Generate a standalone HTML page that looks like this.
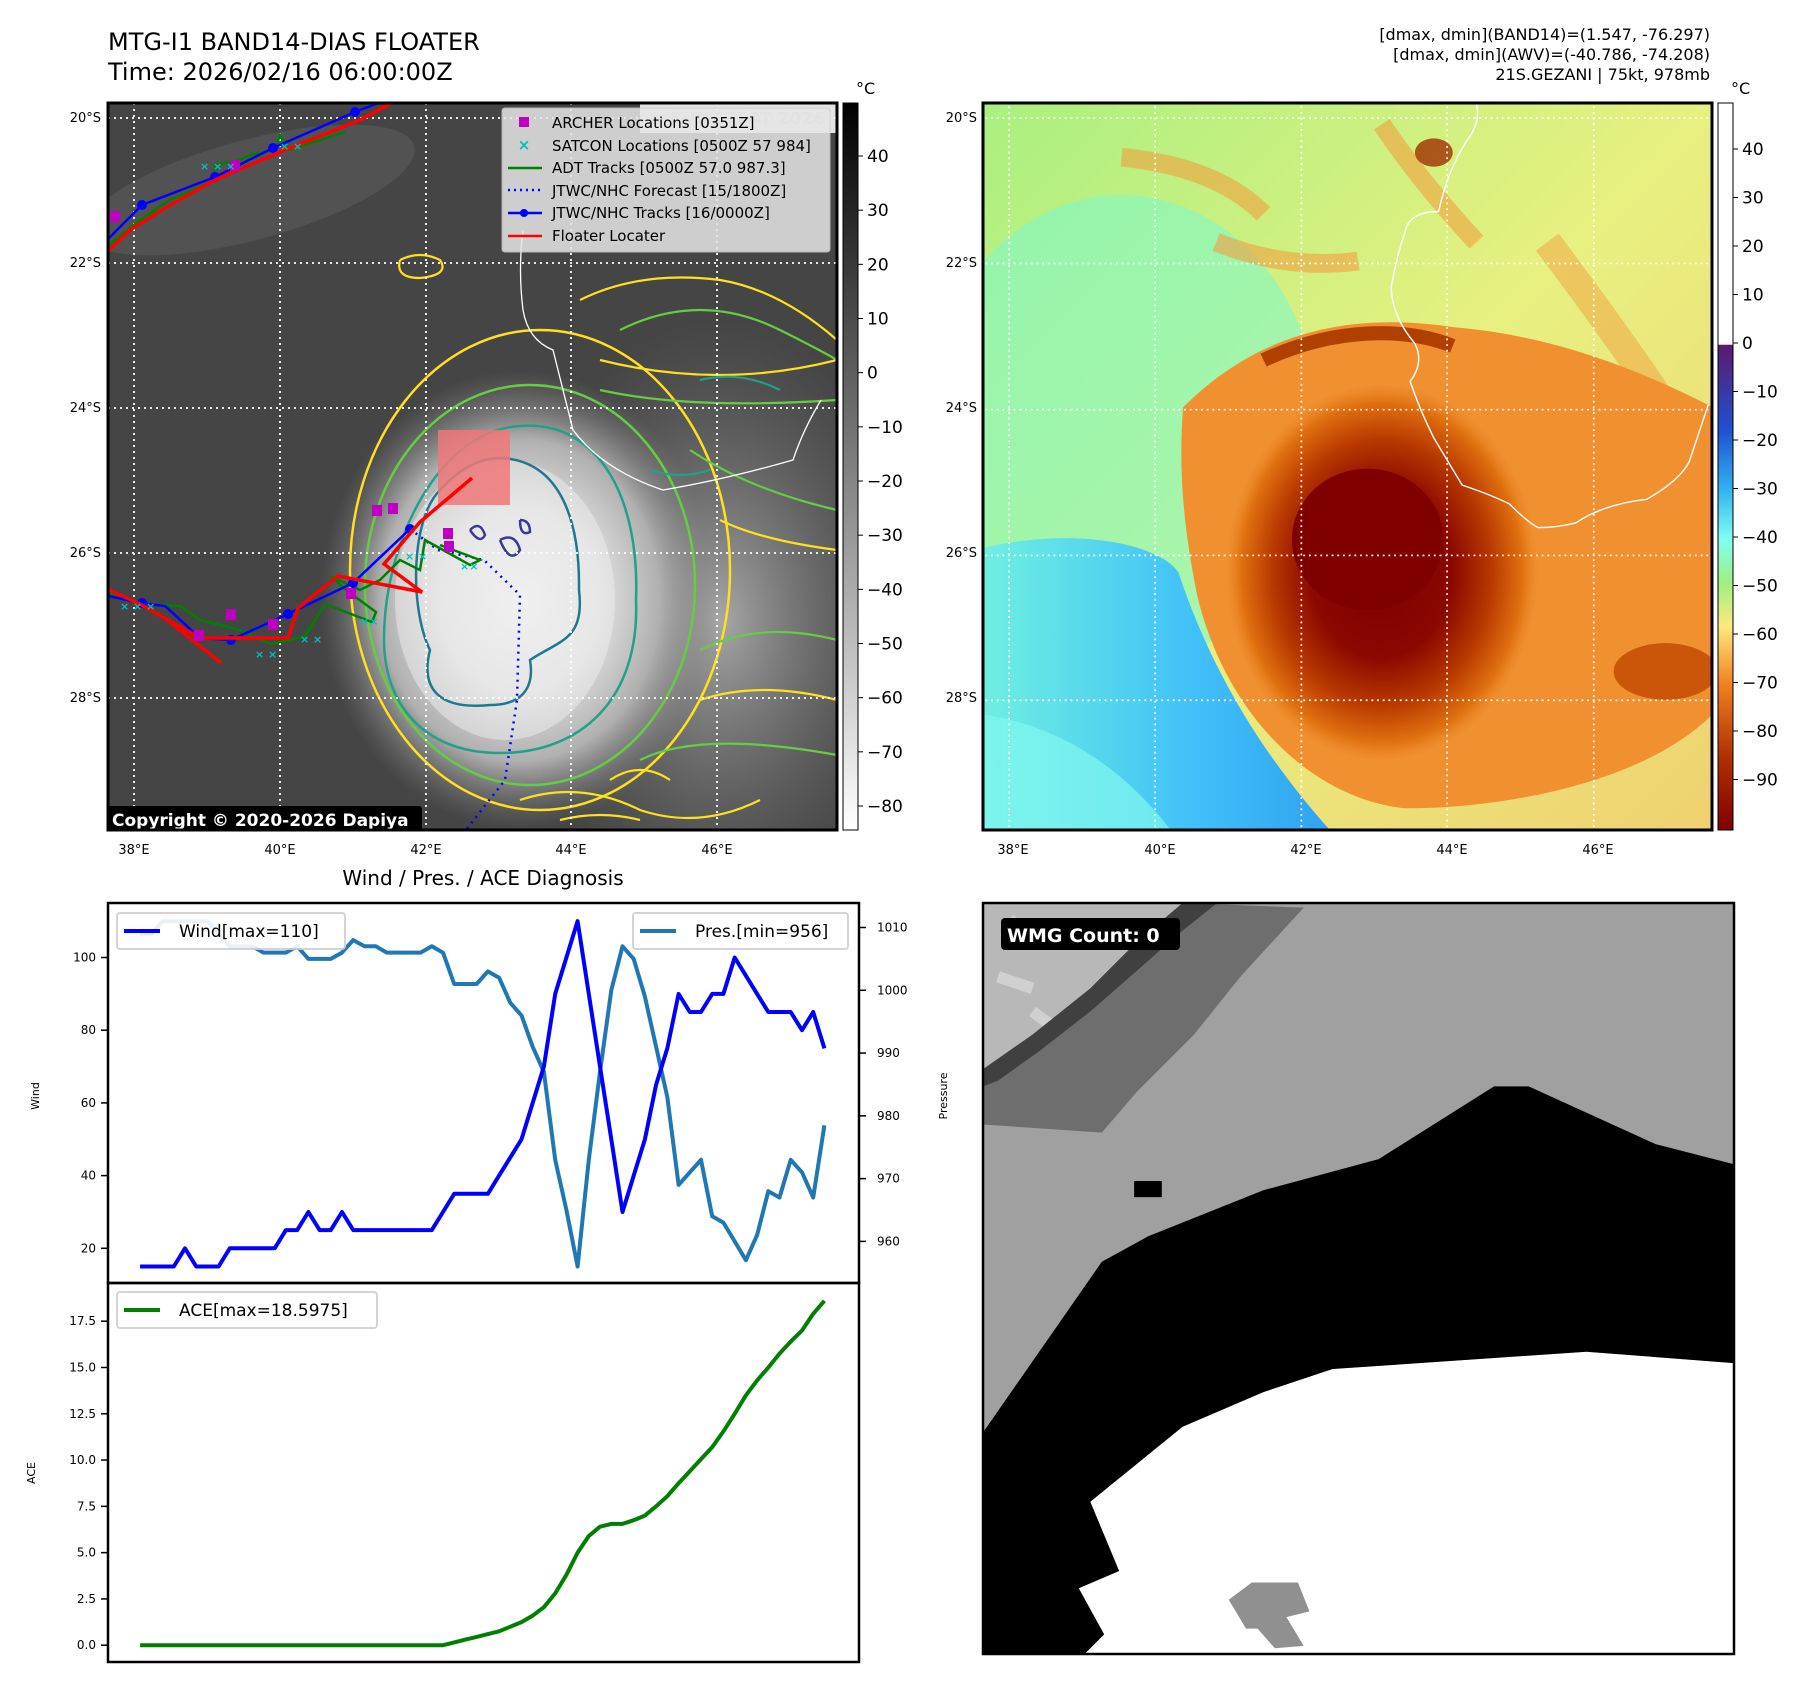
<!DOCTYPE html>
<html><head><meta charset="utf-8"><style>
html,body{margin:0;padding:0;background:#fff;}
svg{display:block;font-family:"DejaVu Sans","Liberation Sans",sans-serif;}
</style></head><body>
<svg id="fig" width="1801" height="1690" viewBox="0 0 1801 1690" xmlns="http://www.w3.org/2000/svg">
<defs>
  <radialGradient id="blob1" cx="0.5" cy="0.5" r="0.5">
    <stop offset="0" stop-color="#f2f2f2"/><stop offset="0.4" stop-color="#e0e0e0"/><stop offset="0.7" stop-color="#b0b0b0"/><stop offset="1" stop-color="#7a7a7a" stop-opacity="0"/>
  </radialGradient>
  <radialGradient id="east1" cx="0.5" cy="0.5" r="0.5">
    <stop offset="0" stop-color="#a8a8a8"/><stop offset="1" stop-color="#707070" stop-opacity="0"/>
  </radialGradient>
  <linearGradient id="cb1" x1="0" y1="0" x2="0" y2="1"><stop offset="0" stop-color="#000"/><stop offset="1" stop-color="#fff"/></linearGradient>
  <linearGradient id="cb2" x1="0" y1="0" x2="0" y2="1">
    <stop offset="0" stop-color="#fff"/><stop offset="0.332" stop-color="#fff"/><stop offset="0.333" stop-color="#5a1a6e"/>
    <stop offset="0.45" stop-color="#2050d0"/><stop offset="0.53" stop-color="#30b0f0"/><stop offset="0.6" stop-color="#80fff0"/>
    <stop offset="0.66" stop-color="#a0f080"/><stop offset="0.72" stop-color="#ffe880"/><stop offset="0.8" stop-color="#f08020"/>
    <stop offset="0.9" stop-color="#b03000"/><stop offset="1" stop-color="#800000"/>
  </linearGradient>
  <radialGradient id="core2" cx="0.5" cy="0.5" r="0.5">
    <stop offset="0" stop-color="#800000"/><stop offset="0.45" stop-color="#8a0800"/><stop offset="0.7" stop-color="#b83800"/><stop offset="0.9" stop-color="#e07010"/><stop offset="1" stop-color="#e88020" stop-opacity="0"/>
  </radialGradient>
  <linearGradient id="bg2" x1="0" y1="0" x2="1" y2="1">
    <stop offset="0" stop-color="#a8f080"/><stop offset="0.5" stop-color="#e8f080"/><stop offset="1" stop-color="#f0d070"/>
  </linearGradient>
  <linearGradient id="sea2" x1="0" y1="0" x2="1" y2="0">
    <stop offset="0" stop-color="#70f0e0"/><stop offset="0.6" stop-color="#40c0f8"/><stop offset="1" stop-color="#30a0f0"/>
  </linearGradient>
  <clipPath id="clip1"><rect x="108" y="103" width="729" height="727"/></clipPath>
  <clipPath id="clip2"><rect x="983" y="103" width="729" height="727"/></clipPath>
  <clipPath id="clip3"><rect x="983" y="903" width="751" height="751"/></clipPath>
</defs>

<text x="108" y="50" font-size="24">MTG-I1 BAND14-DIAS FLOATER</text>
<text x="108" y="80" font-size="24">Time: 2026/02/16 06:00:00Z</text>
<g font-size="16" text-anchor="end">
  <text x="1710" y="40">[dmax, dmin](BAND14)=(1.547, -76.297)</text>
  <text x="1710" y="60">[dmax, dmin](AWV)=(-40.786, -74.208)</text>
  <text x="1710" y="80">21S.GEZANI | 75kt, 978mb</text>
</g>

<!-- MAP 1 -->
<g clip-path="url(#clip1)">
  <rect x="108" y="103" width="729" height="727" fill="#454545"/>
  <ellipse cx="250" cy="190" rx="170" ry="50" fill="#525252" transform="rotate(-15 250 190)"/>
  <ellipse cx="720" cy="620" rx="200" ry="300" fill="url(#east1)"/>
  <ellipse cx="520" cy="600" rx="200" ry="230" fill="url(#blob1)"/>
  <ellipse cx="505" cy="600" rx="110" ry="140" fill="#eeeeee" opacity="0.5"/>
  <ellipse cx="540" cy="570" rx="190" ry="240" fill="none" stroke="#ffe020" stroke-width="2.5"/>
  <ellipse cx="530" cy="585" rx="165" ry="200" fill="none" stroke="#66cc44" stroke-width="2.5"/>
  <path d="M520,426 C600,420 640,500 636,600 C640,700 580,753 500,753 C420,753 384,700 384,640 C384,540 440,430 520,426Z" fill="none" stroke="#22a088" stroke-width="2.5"/>
  <path d="M500,458 C560,460 580,520 579,590 C585,640 560,640 530,660 C535,690 520,705 490,705 C440,710 420,690 430,650 C410,610 410,520 440,490 C460,468 480,458 500,458Z" fill="none" stroke="#207890" stroke-width="2.5"/>
  <path d="M470,530 q10,-10 15,5 q-5,10 -15,-5 M500,540 q15,-8 20,10 q-10,15 -20,-10 M520,520 q10,0 10,12 q-10,5 -10,-12" fill="none" stroke="#3a3a90" stroke-width="2.5"/>
  <path d="M620,330 q80,-40 160,0 q40,20 57,30 M600,390 q90,20 237,10 M690,450 q60,40 147,60 M700,650 q60,-30 137,-10 M640,760 q60,-30 197,-5" fill="none" stroke="#66cc44" stroke-width="2.2"/>
  <path d="M580,300 q60,-30 140,-20 q60,10 117,60 M600,360 q120,30 237,0 M720,520 q40,20 117,30 M700,700 q60,-20 137,0 M520,800 q60,-20 120,10 q60,20 120,-10 M560,820 q40,-10 80,0 M400,260 q20,-10 40,0 q10,15 -20,18 q-25,0 -20,-18 M610,780 q30,-20 60,0" fill="none" stroke="#ffe020" stroke-width="2.2"/>
  <path d="M700,380 q40,-10 80,10 M650,470 q30,10 60,0" fill="none" stroke="#22a088" stroke-width="2.2"/>
  <path d="M523,230 q-5,40 0,80 q5,30 30,40 q10,40 20,80 q30,40 90,60 q60,-10 130,-30 q10,-30 28,-60" fill="none" stroke="#fff" stroke-width="1.3"/>
  <g stroke="#fff" stroke-width="1.8" stroke-dasharray="2,4">
    <line x1="108" x2="837" y1="118" y2="118"/><line x1="108" x2="837" y1="263" y2="263"/><line x1="108" x2="837" y1="408" y2="408"/><line x1="108" x2="837" y1="553" y2="553"/><line x1="108" x2="837" y1="698" y2="698"/>
    <line y1="103" y2="830" x1="134" x2="134"/><line y1="103" y2="830" x1="280" x2="280"/><line y1="103" y2="830" x1="426" x2="426"/><line y1="103" y2="830" x1="571" x2="571"/><line y1="103" y2="830" x1="717" x2="717"/>
  </g>
  <rect x="438" y="430" width="72" height="75" fill="#f07878" opacity="0.85"/>
  <polyline points="410,529 438,550 484,560 520,595 517,700 505,780 466,830" fill="none" stroke="#0000ff" stroke-width="2.5" stroke-dasharray="2,5"/>
  <g fill="none" stroke="#008000" stroke-width="2.5">
    <polyline points="109,594 150,604 180,606 200,620 240,630 271,644 290,640 305,636 325,604 372,622 376,612 350,593 330,576 360,590 380,580 400,560 420,570 425,540 470,565 480,560 440,545"/>
    <polyline points="109,245 140,220 170,200 215,180 215,165 240,160 250,155 275,150 280,135 290,150 320,140 345,132"/>
  </g>
  <g fill="none" stroke="#0000ff" stroke-width="2.5">
    <polyline points="109,596 140,603 165,606 200,638 231,640 288,614 353,583 410,529"/>
    <polyline points="109,238 142,205 215,177 273,148 355,112 381,102"/>
  </g>
  <g fill="#0000ff"><circle cx="142" cy="603" r="5"/><circle cx="231" cy="640" r="5"/><circle cx="288" cy="614" r="5"/><circle cx="353" cy="583" r="5"/><circle cx="410" cy="529" r="5"/><circle cx="142" cy="205" r="5"/><circle cx="215" cy="177" r="5"/><circle cx="273" cy="148" r="5"/><circle cx="355" cy="112" r="5"/></g>
  <g fill="none" stroke="#ff0000" stroke-width="3.5">
    <polyline points="109,590 140,604 200,638 288,638 298,608 338,576 422,592 384,564 420,522 472,478"/>
    <polyline points="165,618 221,663"/>
    <polyline points="109,250 130,230 170,205 215,180 280,152 360,120 390,104"/>
  </g>
  <g fill="#c000c0">
    <rect x="372" y="505" width="10" height="11"/><rect x="388" y="503" width="10" height="11"/><rect x="444" y="541" width="10" height="11"/><rect x="443" y="528" width="10" height="11"/>
    <rect x="346" y="588" width="10" height="11"/><rect x="268" y="619" width="10" height="11"/><rect x="226" y="609" width="10" height="11"/><rect x="110" y="211" width="10" height="11"/><rect x="230" y="160" width="10" height="11"/><rect x="194" y="630" width="10" height="11"/>
  </g>
  <g fill="#00c0c0" font-size="11" font-weight="bold">
    <text x="120" y="610">× × ×</text><text x="255" y="658">× ×</text><text x="300" y="643">× ×</text><text x="360" y="625">××</text><text x="405" y="560">× ×</text><text x="460" y="570">××</text><text x="200" y="170">× × ×</text><text x="280" y="150">× ×</text>
  </g>
  <rect x="640" y="103" width="197" height="30" fill="#fff" opacity="0.85"/>
  <text x="825" y="124" font-size="17" font-weight="bold" fill="#ccc" text-anchor="end">© EUMETSAT 2026</text>
  <rect x="108" y="806" width="314" height="26" rx="3" fill="#000"/>
  <text x="112" y="826" font-size="17" font-weight="bold" fill="#fff">Copyright © 2020-2026 Dapiya</text>
</g>
<rect x="108" y="103" width="729" height="727" fill="none" stroke="#000" stroke-width="3"/>
<g>
  <rect x="502" y="108" width="328" height="144" rx="3" fill="#e6e6e6" opacity="0.85" stroke="#ccc"/>
  <rect x="519" y="117" width="10" height="10" fill="#c000c0"/>
  <text x="524" y="150" font-size="15" font-weight="bold" fill="#00c0c0" text-anchor="middle">×</text>
  <line x1="508" x2="542" y1="168" y2="168" stroke="#008000" stroke-width="2.5"/>
  <line x1="508" x2="542" y1="190" y2="190" stroke="#0000ff" stroke-width="2.5" stroke-dasharray="2,4"/>
  <line x1="508" x2="542" y1="213" y2="213" stroke="#0000ff" stroke-width="2.5"/><circle cx="524" cy="213" r="4" fill="#0000ff"/>
  <line x1="508" x2="542" y1="236" y2="236" stroke="#ff0000" stroke-width="2.5"/>
  <g font-size="15">
    <text x="552" y="128">ARCHER Locations [0351Z]</text>
    <text x="552" y="151">SATCON Locations [0500Z 57 984]</text>
    <text x="552" y="173">ADT Tracks [0500Z 57.0 987.3]</text>
    <text x="552" y="196">JTWC/NHC Forecast [15/1800Z]</text>
    <text x="552" y="218">JTWC/NHC Tracks [16/0000Z]</text>
    <text x="552" y="241">Floater Locater</text>
  </g>
</g>
<g font-size="13">
  <g text-anchor="end"><text x="101" y="122">20°S</text><text x="101" y="267">22°S</text><text x="101" y="412">24°S</text><text x="101" y="557">26°S</text><text x="101" y="702">28°S</text></g>
  <g text-anchor="middle"><text x="134" y="854">38°E</text><text x="280" y="854">40°E</text><text x="426" y="854">42°E</text><text x="571" y="854">44°E</text><text x="717" y="854">46°E</text></g>
</g>
<g>
  <rect x="843" y="103" width="15" height="727" fill="url(#cb1)" stroke="#000" stroke-width="1"/>
  <text x="856" y="94" font-size="16">°C</text>
  <g font-size="17" id="cb1ticks"></g>
</g>

<!-- MAP 2 -->
<g clip-path="url(#clip2)">
  <svg x="983" y="103" width="729" height="727" viewBox="7 5 1541 1541" preserveAspectRatio="none">
    <rect x="0" y="0" width="1568" height="1568" fill="url(#bg2)"/>
    <ellipse cx="300" cy="700" rx="420" ry="500" fill="#80f8c8" opacity="0.6"/>
    <path d="M0,950 C200,900 380,940 420,1000 C470,1150 560,1350 760,1568 L0,1568Z" fill="url(#sea2)"/>
    <path d="M0,1300 C150,1320 300,1400 420,1568 L0,1568Z" fill="#80f8f0" opacity="0.7"/>
    <path d="M300,120 q200,20 300,120 M850,50 q80,120 200,250 M500,300 q150,60 300,40" fill="none" stroke="#f0a040" stroke-width="40" opacity="0.6"/>
    <path d="M1200,300 q150,200 250,350" fill="none" stroke="#f0a040" stroke-width="60" opacity="0.5"/>
    <path d="M430,650 C600,480 800,450 1000,480 C1250,500 1450,600 1550,650 L1550,1300 C1400,1450 1100,1500 900,1500 C700,1480 520,1300 460,1050 C430,900 420,780 430,650Z" fill="#f09030"/>
    <path d="M600,550 C750,480 900,480 1000,520" fill="none" stroke="#b04000" stroke-width="30"/>
    <ellipse cx="850" cy="1000" rx="330" ry="400" fill="url(#core2)"/>
    <ellipse cx="820" cy="930" rx="160" ry="150" fill="#800000"/>
    <ellipse cx="1450" cy="1210" rx="110" ry="60" fill="#c04800" opacity="0.8"/>
    <ellipse cx="960" cy="110" rx="40" ry="30" fill="#a03000" opacity="0.8"/>
    <path d="M1050,5 q10,40 -20,80 q-40,60 -60,150 q-60,0 -70,40 q-20,60 -30,120 q0,60 50,120 q20,40 -10,80 q20,60 50,120 q30,50 60,100 q60,20 100,40 q40,40 60,50 q40,0 80,-10 q60,-40 150,-50 q70,-40 90,-80 q20,-60 40,-120" fill="none" stroke="#fff" stroke-width="3"/>
    <g stroke="#fff" stroke-width="3.5" stroke-dasharray="4,8">
      <line x1="0" x2="1568" y1="37" y2="37"/><line x1="0" x2="1568" y1="345" y2="345"/><line x1="0" x2="1568" y1="655" y2="655"/><line x1="0" x2="1568" y1="964" y2="964"/><line x1="0" x2="1568" y1="1271" y2="1271"/>
      <line y1="0" y2="1568" x1="62" x2="62"/><line y1="0" y2="1568" x1="371" x2="371"/><line y1="0" y2="1568" x1="680" x2="680"/><line y1="0" y2="1568" x1="988" x2="988"/><line y1="0" y2="1568" x1="1298" x2="1298"/>
    </g>
  </svg>
</g>
<rect x="983" y="103" width="729" height="727" fill="none" stroke="#000" stroke-width="3"/>
<g font-size="13">
  <g text-anchor="end"><text x="977" y="122">20°S</text><text x="977" y="267">22°S</text><text x="977" y="412">24°S</text><text x="977" y="557">26°S</text><text x="977" y="702">28°S</text></g>
  <g text-anchor="middle"><text x="1013" y="854">38°E</text><text x="1160" y="854">40°E</text><text x="1306" y="854">42°E</text><text x="1452" y="854">44°E</text><text x="1598" y="854">46°E</text></g>
</g>
<g>
  <rect x="1718" y="103" width="15" height="727" fill="url(#cb2)" stroke="#000" stroke-width="1"/>
  <text x="1731" y="94" font-size="16">°C</text>
  <g font-size="17" id="cb2ticks"></g>
</g>

<text x="483" y="885" font-size="20" text-anchor="middle">Wind / Pres. / ACE Diagnosis</text>
<g id="chart"></g>

<!-- WMG panel -->
<g clip-path="url(#clip3)">
  <svg x="983" y="903" width="751" height="751" viewBox="857 786 651 651" preserveAspectRatio="none">
    <rect x="857" y="786" width="651" height="651" fill="#a0a0a0"/>
    <path d="M857,786 L1030,786 L990,830 L950,870 L900,910 L857,935Z" fill="#b8b8b8"/>
    <path d="M880,800 l20,20 M870,850 l30,10 M900,880 l20,15" stroke="#d0d0d0" stroke-width="10"/>
    <path d="M1030,786 L1135,790 L1080,850 L1040,900 L990,950 L960,985 L857,978 L857,935 L900,910 L950,870 L990,830Z" fill="#6e6e6e"/>
    <path d="M1030,786 L1060,786 L1030,810 L990,845 L950,880 L905,915 L870,940 L857,945 L857,930 L900,900 L950,860 L990,820Z" fill="#404040"/>
    <rect x="988" y="1027" width="24" height="14" fill="#000"/>
    <path d="M1510,1185 L1380,1175 L1160,1190 L1100,1210 L1030,1240 L950,1305 L975,1365 L940,1380 L962,1420 L945,1437 L1510,1437Z" fill="#fff"/>
    <path d="M857,1245 L960,1097 L1000,1075 L1100,1035 L1200,1008 L1300,945 L1330,945 L1440,995 L1510,1013 L1510,1185 L1380,1175 L1160,1190 L1100,1210 L1030,1240 L950,1305 L975,1365 L940,1380 L962,1420 L945,1437 L857,1437Z" fill="#000"/>
    <path d="M1070,1390 L1090,1375 L1130,1375 L1140,1400 L1120,1405 L1135,1430 L1110,1432 L1095,1415 L1085,1415Z" fill="#909090"/>
  </svg>
</g>
<rect x="983" y="903" width="751" height="751" fill="none" stroke="#000" stroke-width="2.5"/>
<rect x="1001" y="918" width="179" height="32" rx="4" fill="#000"/>
<text x="1007" y="942" font-size="19" font-weight="bold" fill="#fff">WMG Count: 0</text>

<script>
const windVals=[15,15,15,15,20,15,15,15,20,20,20,20,20,25,25,30,25,25,30,25,25,25,25,25,25,25,25,30,35,35,35,35,40,45,50,60,70,90,100,110,90,70,50,30,40,50,65,75,90,85,85,90,90,100,95,90,85,85,85,80,85,75];
const presVals=[1009,1009,1011,1011,1011,1011,1011,1009,1007,1007,1007,1006,1006,1006,1007,1005,1005,1005,1006,1008,1007,1007,1006,1006,1006,1006,1007,1006,1001,1001,1001,1003,1002,998,996,991,987,973,965,956,973,987,1000,1007,1005,999,991,983,969,971,973,964,963,960,957,961,968,967,973,971,967,978.5];
const aceVals=[0,0,0,0,0,0,0,0,0,0,0,0,0,0,0,0,0,0,0,0,0,0,0,0,0,0,0,0,0.15,0.3,0.45,0.6,0.75,1.0,1.25,1.6,2.05,2.8,3.8,5.0,5.9,6.4,6.55,6.55,6.75,7.0,7.5,8.05,8.75,9.4,10.05,10.7,11.55,12.5,13.5,14.3,15.0,15.75,16.4,17.0,17.9,18.6];
const windTicks=[20,40,60,80,100];
const presTicks=[960,970,980,990,1000,1010];
const aceTicks=[0,2.5,5,7.5,10,12.5,15,17.5];
const cb1Ticks=[40,30,20,10,0,-10,-20,-30,-40,-50,-60,-70,-80];
const cb2Ticks=[40,30,20,10,0,-10,-20,-30,-40,-50,-60,-70,-80,-90];

const NS='http://www.w3.org/2000/svg';
function mk(tag,attrs,parent){const e=document.createElementNS(NS,tag);for(const k in attrs)e.setAttribute(k,attrs[k]);parent.appendChild(e);return e;}
const chart=document.getElementById('chart');
const X0=108,X1=859,T0=903,MID=1283,B0=1662;
const xs=i=>140.1+i*(824.4-140.1)/(windVals.length-1);
const yW=v=>1248.3+(v-20)*(957.5-1248.3)/80;
const yP=v=>1241.4+(v-960)*(927.5-1241.4)/50;
const yA=v=>1645.2+v*(1321.2-1645.2)/17.5;
function ptsOf(arr,fy){return arr.map((v,i)=>xs(i).toFixed(1)+','+fy(v).toFixed(1)).join(' ');}

let l=mk('polyline',{points:ptsOf(presVals,yP),fill:'none',stroke:'#1f77b4','stroke-width':4,'stroke-linejoin':'round'},chart);


l=mk('polyline',{points:ptsOf(windVals,yW),fill:'none',stroke:'#0000ff','stroke-width':4,'stroke-linejoin':'round'},chart);


l=mk('polyline',{points:ptsOf(aceVals,yA),fill:'none',stroke:'#008000','stroke-width':4,'stroke-linejoin':'round'},chart);



let f=mk('rect',{x:X0,y:T0,width:X1-X0,height:MID-T0,fill:'none',stroke:'#000','stroke-width':2.5},chart);


f=mk('rect',{x:X0,y:MID,width:X1-X0,height:B0-MID,fill:'none',stroke:'#000','stroke-width':2.5},chart);



windTicks.forEach(v=>{const y=yW(v);mk('line',{x1:X0-7,x2:X0,y1:y,y2:y,stroke:'#000','stroke-width':1.5},chart);
 const t=mk('text',{x:X0-12,y:y+4,'font-size':12,'text-anchor':'end'},chart);t.textContent=v;
 
 });
presTicks.forEach(v=>{const y=yP(v);mk('line',{x1:X1,x2:X1+7,y1:y,y2:y,stroke:'#000','stroke-width':1.5},chart);
 const t=mk('text',{x:X1+18,y:y+4,'font-size':12},chart);t.textContent=v;
 
 });
aceTicks.forEach(v=>{const y=yA(v);mk('line',{x1:X0-7,x2:X0,y1:y,y2:y,stroke:'#000','stroke-width':1.5},chart);
 const t=mk('text',{x:X0-12,y:y+4,'font-size':12,'text-anchor':'end'},chart);t.textContent=v.toFixed(1);
 
 });
let at=mk('text',{x:0,y:0,'font-size':11,'text-anchor':'middle',transform:'translate(39,1096) rotate(-90)'},chart);at.textContent='Wind';


at=mk('text',{x:0,y:0,'font-size':11,'text-anchor':'middle',transform:'translate(947,1096) rotate(-90)'},chart);at.textContent='Pressure';


at=mk('text',{x:0,y:0,'font-size':11,'text-anchor':'middle',transform:'translate(35,1473) rotate(-90)'},chart);at.textContent='ACE';



function legend(x,y,w,color,label,name){const g=mk('g',{},chart);
 
 
 mk('rect',{x:x,y:y,width:w,height:36,rx:3,fill:'#fff',stroke:'#d0d0d0','stroke-width':2,opacity:0.9},g);
 mk('line',{x1:x+7,x2:x+43,y1:y+18,y2:y+18,stroke:color,'stroke-width':4},g);
 const t=mk('text',{x:x+62,y:y+24,'font-size':17},g);t.textContent=label;}
legend(117,913,228,'#0000ff','Wind[max=110]','wind-legend');
legend(633,913,215,'#1f77b4','Pres.[min=956]','pressure-legend');
legend(117,1292,260,'#008000','ACE[max=18.5975]','ace-legend');

const cbg1=document.getElementById('cb1ticks');
cb1Ticks.forEach(v=>{const y=156+(40-v)*(806-156)/120;mk('line',{x1:858,x2:863,y1:y,y2:y,stroke:'#000'},cbg1);
 const t=mk('text',{x:867,y:y+6},cbg1);t.textContent=(v<0?'\u2212'+(-v):v);
 
 });
const cbg2=document.getElementById('cb2ticks');
cb2Ticks.forEach(v=>{const y=343+(0-v)*4.85;mk('line',{x1:1733,x2:1738,y1:y,y2:y,stroke:'#000'},cbg2);
 const t=mk('text',{x:1742,y:y+6},cbg2);t.textContent=(v<0?'\u2212'+(-v):v);
 
 });
</script>
</svg>
</body></html>
